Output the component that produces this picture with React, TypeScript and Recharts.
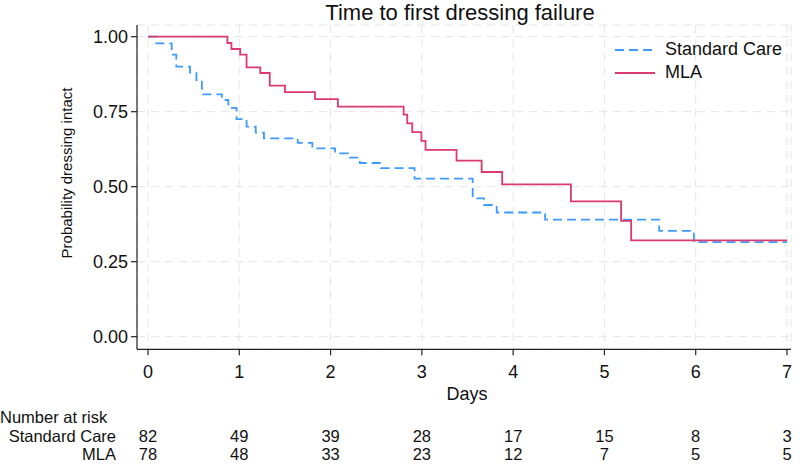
import React from 'react';
import { LineChart, Line, XAxis, YAxis, CartesianGrid, Legend } from 'recharts';

// Kaplan-Meier step data (day, survival probability)
const standardCare = [
  { t: 0, s: 1.0 }, { t: 0.09, s: 0.978 }, { t: 0.26, s: 0.94 }, { t: 0.31, s: 0.9 },
  { t: 0.46, s: 0.88 }, { t: 0.53, s: 0.855 }, { t: 0.59, s: 0.808 }, { t: 0.81, s: 0.789 },
  { t: 0.88, s: 0.763 }, { t: 0.97, s: 0.725 }, { t: 1.08, s: 0.7 }, { t: 1.18, s: 0.68 },
  { t: 1.27, s: 0.661 }, { t: 1.64, s: 0.646 }, { t: 1.8, s: 0.628 }, { t: 2.05, s: 0.611 },
  { t: 2.19, s: 0.597 }, { t: 2.32, s: 0.579 }, { t: 2.55, s: 0.562 }, { t: 2.92, s: 0.527 },
  { t: 3.557, s: 0.461 }, { t: 3.68, s: 0.439 }, { t: 3.82, s: 0.414 }, { t: 4.35, s: 0.39 },
  { t: 5.6, s: 0.353 }, { t: 5.98, s: 0.315 }, { t: 7.0, s: 0.315 },
];

const mla = [
  { t: 0, s: 1.0 }, { t: 0.87, s: 0.979 }, { t: 0.914, s: 0.959 }, { t: 1.01, s: 0.94 },
  { t: 1.08, s: 0.898 }, { t: 1.23, s: 0.879 }, { t: 1.334, s: 0.837 }, { t: 1.5, s: 0.815 },
  { t: 1.83, s: 0.792 }, { t: 2.08, s: 0.767 }, { t: 2.8, s: 0.74 }, { t: 2.84, s: 0.711 },
  { t: 2.895, s: 0.682 }, { t: 2.995, s: 0.653 }, { t: 3.04, s: 0.623 }, { t: 3.38, s: 0.587 },
  { t: 3.655, s: 0.549 }, { t: 3.88, s: 0.508 }, { t: 4.633, s: 0.451 }, { t: 5.183, s: 0.386 },
  { t: 5.293, s: 0.321 }, { t: 7.0, s: 0.321 },
];

const dayTicks = [0, 1, 2, 3, 4, 5, 6, 7];
const probTicks = [0, 0.25, 0.5, 0.75, 1];
const riskStandardCare = [82, 49, 39, 28, 17, 15, 8, 3];
const riskMLA = [78, 48, 33, 23, 12, 7, 5, 5];
const seriesNames = ['Standard Care', 'MLA'];

const FONT = 'Liberation Sans, Arial, sans-serif';
const BLUE = '#3d9bff';
const RED = '#dc3a6e';
const TEXT = '#111';
const TABLE_FS = 16.5;

const seriesStyle: Record<string, { color: string; dash?: string }> = {
  'Standard Care': { color: BLUE, dash: '9 5' },
  MLA: { color: RED },
};

const makeTick = (labels: (string | number)[], fs: number) => (props: any) => {
  const { x, y, payload } = props;
  const i = dayTicks.indexOf(payload.value);
  return (
    <text x={x} y={y} textAnchor="middle" fontSize={fs} fontFamily={FONT} fill={TEXT}>
      {i >= 0 ? labels[i] : ''}
    </text>
  );
};

const LegendContent = (props: any) => {
  const payload = (props.payload || [])
    .filter((e: any) => seriesNames.includes(e.value))
    .sort((a: any, b: any) => seriesNames.indexOf(a.value) - seriesNames.indexOf(b.value));
  return (
    <div style={{ fontFamily: FONT, fontSize: 18, color: TEXT }}>
      {payload.map((e: any) => {
        const st = seriesStyle[e.value] || { color: e.color };
        return (
          <div key={e.value} style={{ display: 'flex', alignItems: 'center', height: 23, lineHeight: '23px' }}>
            <svg width={50} height={10} style={{ display: 'block' }}>
              <line x1={0} y1={5} x2={40} y2={5} stroke={st.color} strokeWidth={2} strokeDasharray={st.dash} />
            </svg>
            <span>{e.value}</span>
          </div>
        );
      })}
    </div>
  );
};

export default function App() {
  return (
    <div style={{ position: 'absolute', left: 0, top: 0, width: 800, height: 464, background: '#fff' }}>
      <LineChart width={800} height={464} margin={{ top: 25, right: 9, bottom: 0, left: 77 }}>
        <CartesianGrid stroke="#e4e4e4" strokeDasharray="8 6" strokeWidth={1} />
        <XAxis
          dataKey="t"
          type="number"
          domain={[0, 7]}
          ticks={dayTicks}
          padding={{ left: 11, right: 4 }}
          height={82}
          tickSize={6}
          tickMargin={22.7}
          stroke="#222"
          strokeWidth={1.2}
          tick={makeTick(dayTicks, 18)}
          allowDecimals={false}
        />
        <XAxis
          xAxisId="r1"
          dataKey="t"
          type="number"
          domain={[0, 7]}
          ticks={dayTicks}
          padding={{ left: 11, right: 4 }}
          height={17}
          axisLine={false}
          tickLine={false}
          tickSize={0}
          tickMargin={10.2}
          tick={makeTick(riskStandardCare, TABLE_FS)}
        />
        <XAxis
          xAxisId="r2"
          dataKey="t"
          type="number"
          domain={[0, 7]}
          ticks={dayTicks}
          padding={{ left: 11, right: 4 }}
          height={15.7}
          axisLine={false}
          tickLine={false}
          tickSize={0}
          tickMargin={11.7}
          tick={makeTick(riskMLA, TABLE_FS)}
        />
        <YAxis
          type="number"
          domain={[0, 1]}
          ticks={probTicks}
          padding={{ top: 11.7, bottom: 12.6 }}
          width={60}
          tickSize={6}
          tickMargin={3}
          stroke="#222"
          strokeWidth={1.2}
          tickFormatter={(v: number) => v.toFixed(2)}
          tick={{ fill: TEXT, fontSize: 18, fontFamily: FONT }}
        />
        <Legend
          layout="vertical"
          align="center"
          verticalAlign="middle"
          content={<LegendContent />}
          wrapperStyle={{ position: 'absolute', left: 615, top: 38, width: 'auto' }}
        />
        <Line
          xAxisId="r1"
          data={standardCare}
          dataKey="s"
          name="sc-risk"
          legendType="none"
          stroke="none"
          strokeWidth={0}
          dot={false}
          activeDot={false}
          isAnimationActive={false}
        />
        <Line
          xAxisId="r2"
          data={mla}
          dataKey="s"
          name="mla-risk"
          legendType="none"
          stroke="none"
          strokeWidth={0}
          dot={false}
          activeDot={false}
          isAnimationActive={false}
        />
        <Line
          data={standardCare}
          dataKey="s"
          name="Standard Care"
          type="stepAfter"
          stroke={BLUE}
          strokeWidth={1.8}
          strokeDasharray="9 5"
          dot={false}
          activeDot={false}
          isAnimationActive={false}
        />
        <Line
          data={mla}
          dataKey="s"
          name="MLA"
          type="stepAfter"
          stroke={RED}
          strokeWidth={1.8}
          dot={false}
          activeDot={false}
          isAnimationActive={false}
        />
      </LineChart>
      <svg
        width={800}
        height={464}
        style={{ position: 'absolute', left: 0, top: 0, pointerEvents: 'none' }}
        fontFamily={FONT}
        fill={TEXT}
      >
        <text x={460} y={20} textAnchor="middle" fontSize={22}>Time to first dressing failure</text>
        <text x={72} y={173} textAnchor="middle" fontSize={15} transform="rotate(-90 72 173)">
          Probability dressing intact
        </text>
        <text x={467} y={400} textAnchor="middle" fontSize={18}>Days</text>
        <text x={0} y={423} textAnchor="start" fontSize={TABLE_FS}>Number at risk</text>
        <text x={116} y={441.5} textAnchor="end" fontSize={TABLE_FS}>Standard Care</text>
        <text x={116} y={460} textAnchor="end" fontSize={TABLE_FS}>MLA</text>
      </svg>
    </div>
  );
}
